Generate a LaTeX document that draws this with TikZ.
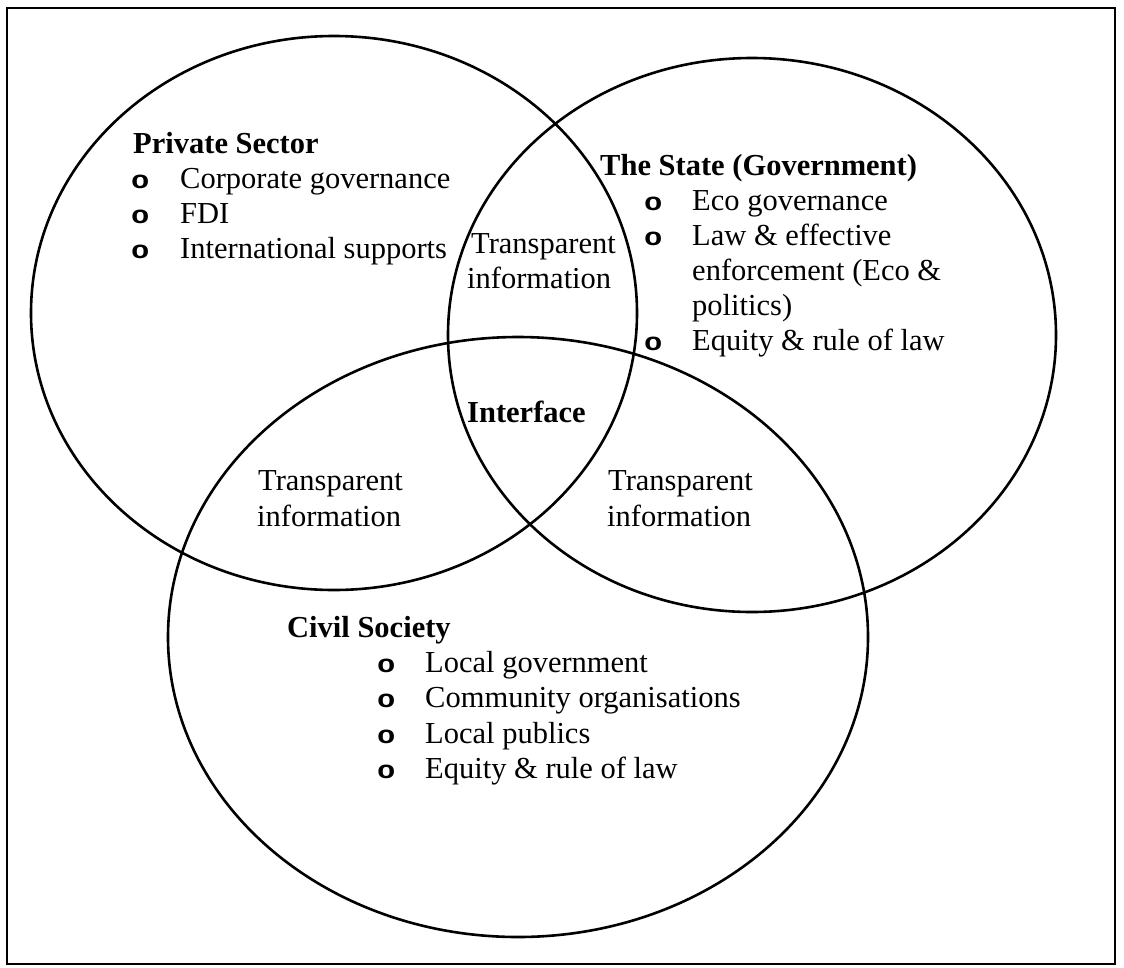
\documentclass[tikz,border=0pt]{standalone}
\usepackage{graphicx}
\usepackage{fontspec}
\setmainfont{Liberation Serif}
\newfontfamily\bulletfont{Liberation Mono}
\newcommand{\ringbullet}{\scalebox{1.22}[1]{o}}
\begin{document}
\begin{tikzpicture}[x=1pt,y=-1pt,
  txt/.style={anchor=base west, inner sep=0pt, font=\fontsize{30.5}{35}\selectfont},
  hd/.style={anchor=base west, inner sep=0pt, font=\fontsize{30.5}{35}\selectfont\bfseries},
  bul/.style={anchor=base west, inner sep=0pt, font=\fontsize{25}{30}\selectfont\bulletfont\bfseries},
  ring/.style={line width=2.6pt},
  frame/.style={line width=2pt}]
\useasboundingbox (0,0) rectangle (1124,967);
\fill[white] (0,0) rectangle (1124,967);
\draw[frame] (7,8) rectangle (1115,964);
% the three sets
\draw[ring] (334,313) ellipse [x radius=303pt, y radius=277pt];
\draw[ring] (752,335) ellipse [x radius=304pt, y radius=277pt];
\draw[ring] (518,637) ellipse [x radius=350pt, y radius=300pt];
% Private sector
\node[hd]  (ps)  at (133,153) {Private Sector};
\node[bul] (psb1) at (131,188) {\ringbullet};
\node[txt] (ps1) at (180,188) {Corporate governance};
\node[bul] (psb2) at (131,223) {\ringbullet};
\node[txt] (ps2) at (180,223) {FDI};
\node[bul] (psb3) at (131,258) {\ringbullet};
\node[txt] (ps3) at (180,258) {International supports};
% The State
\node[hd]  (st)  at (600,175) {The State (Government)};
\node[bul] (stb1) at (644,210) {\ringbullet};
\node[txt] (st1) at (692,210) {Eco governance};
\node[bul] (stb2) at (644,245) {\ringbullet};
\node[txt] (st2) at (692,245) {Law \& effective};
\node[txt] (st2b) at (692,280) {enforcement (Eco \&};
\node[txt] (st2c) at (692,315) {politics)};
\node[bul] (stb3) at (644,350) {\ringbullet};
\node[txt] (st3) at (692,350) {Equity \& rule of law};
% Civil society
\node[hd]  (cs)  at (287,637) {Civil Society};
\node[bul] (csb1) at (377,672) {\ringbullet};
\node[txt] (cs1) at (425,672) {Local government};
\node[bul] (csb2) at (377,707) {\ringbullet};
\node[txt] (cs2) at (425,707) {Community organisations};
\node[bul] (csb3) at (377,743) {\ringbullet};
\node[txt] (cs3) at (425,743) {Local publics};
\node[bul] (csb4) at (377,778) {\ringbullet};
\node[txt] (cs4) at (425,778) {Equity \& rule of law};
% overlaps
\node[txt] (ti1a) at (471,253) {Transparent};
\node[txt] (ti1b) at (467,288) {information};
\node[hd]  (itf)  at (467,422) {Interface};
\node[txt] (ti2a) at (258,490) {Transparent};
\node[txt] (ti2b) at (257,526) {information};
\node[txt] (ti3a) at (608,490) {Transparent};
\node[txt] (ti3b) at (607,526) {information};
\end{tikzpicture}
\end{document}
